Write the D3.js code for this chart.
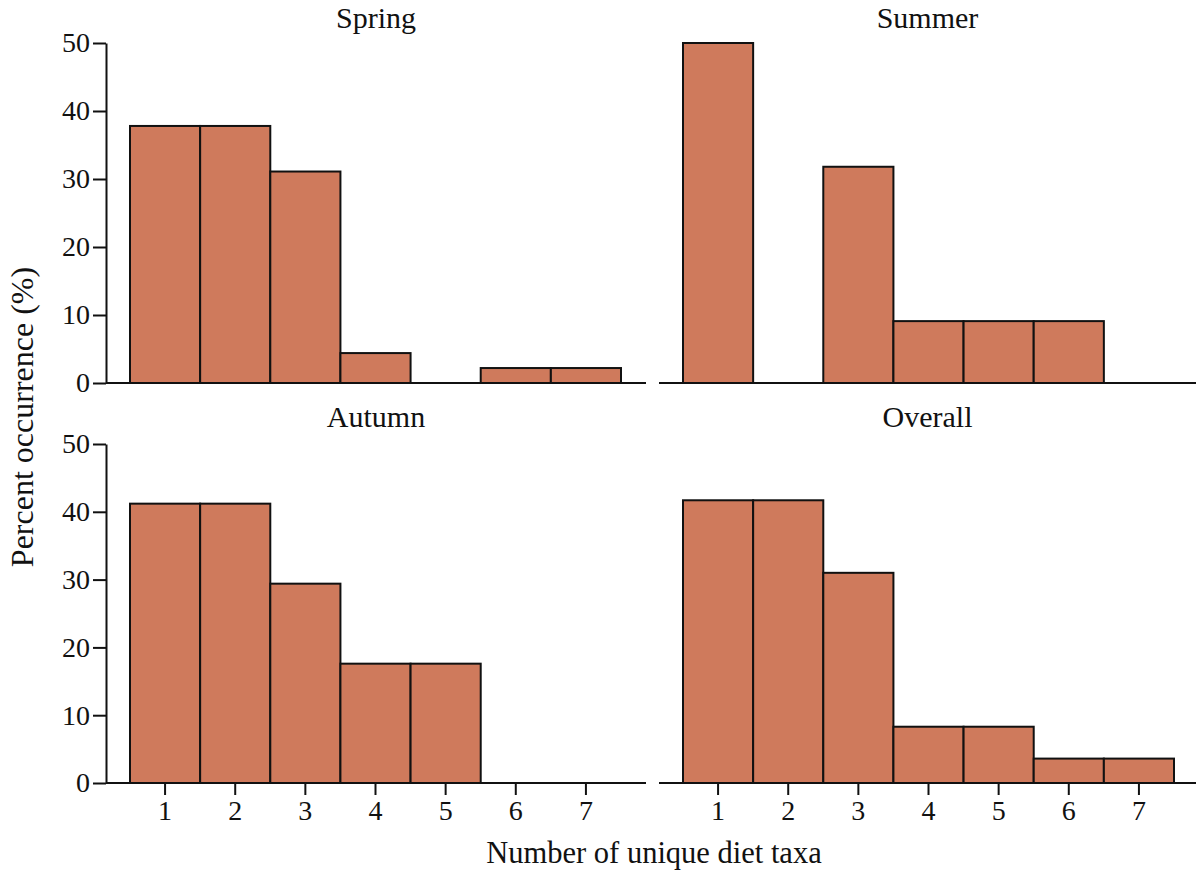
<!DOCTYPE html>
<html>
<head>
<meta charset="utf-8">
<script src="https://cdn.jsdelivr.net/npm/d3@7/dist/d3.min.js"></script>
<style>
  html, body { margin: 0; padding: 0; background: #fff; }
  svg text { font-family: "Liberation Serif", "Times New Roman", serif; fill: #111; }
</style>
</head>
<body>
<svg id="chart" width="1196" height="877"></svg>
<script>
// Number of unique diet taxa per sample (categories on the x axis)
const taxa = [1, 2, 3, 4, 5, 6, 7];
const yTicks = [0, 10, 20, 30, 40, 50];

// Percent occurrence by season
const spring  = [37.8, 37.8, 31.1, 4.4, 0, 2.2, 2.2];
const summer  = [50.0, 0, 31.8, 9.1, 9.1, 9.1, 0];
const autumn  = [41.2, 41.2, 29.4, 17.6, 17.6, 0, 0];
const overall = [41.7, 41.7, 31.0, 8.3, 8.3, 3.6, 3.6];

const panelTitles = ["Spring", "Summer", "Autumn", "Overall"];
const panelValues = [spring, summer, autumn, overall];

const svg = d3.select("#chart");
const barFill = "#CF7A5C";
const ink = "#111";

// panel frames: axis extents and bar band extents
const cols = [
  { axisX0: 106, axisX1: 646, band0: 130, band1: 621, yAxis: true },
  { axisX0: 659, axisX1: 1196, band0: 683, band1: 1174, yAxis: false }
];
const rows = [
  { top: 43, bottom: 383, titleY: 28, xTicks: false },
  { top: 444, bottom: 783, titleY: 427, xTicks: true }
];

panelTitles.forEach((title, i) => {
  const c = cols[i % 2], r = rows[Math.floor(i / 2)];
  const values = panelValues[i];

  const x = d3.scaleBand().domain(taxa).range([c.band0, c.band1]).padding(0);
  const y = d3.scaleLinear().domain([0, 50]).range([r.bottom, r.top]);

  const g = svg.append("g");

  // bars
  g.selectAll("rect.bar")
    .data(taxa.map((t, k) => ({ t, v: values[k] })).filter(d => d.v > 0))
    .join("rect")
    .attr("class", "bar")
    .attr("x", d => x(d.t))
    .attr("width", x.bandwidth())
    .attr("y", d => y(d.v))
    .attr("height", d => y(0) - y(d.v))
    .attr("fill", barFill)
    .attr("stroke", ink)
    .attr("stroke-width", 2);

  // baseline
  g.append("line")
    .attr("x1", c.axisX0).attr("x2", c.axisX1)
    .attr("y1", y(0)).attr("y2", y(0))
    .attr("stroke", ink).attr("stroke-width", 2);

  // x ticks (bottom row only)
  if (r.xTicks) {
    const ax = g.append("g")
      .attr("transform", `translate(0,${y(0)})`)
      .call(d3.axisBottom(x).tickSize(12).tickPadding(5));
    ax.select(".domain").remove();
    ax.selectAll(".tick line").attr("stroke", ink).attr("stroke-width", 2);
    ax.selectAll(".tick text").attr("font-size", 28)
      .attr("font-family", "Liberation Serif, serif").attr("fill", ink);
  }

  // y axis (left column only)
  if (c.yAxis) {
    const ay = g.append("g")
      .attr("transform", `translate(${c.axisX0},0)`)
      .call(d3.axisLeft(y).tickValues(yTicks).tickSize(13).tickPadding(3).tickSizeOuter(0));
    ay.select(".domain").attr("stroke", ink).attr("stroke-width", 2);
    ay.selectAll(".tick line").attr("stroke", ink).attr("stroke-width", 2);
    ay.selectAll(".tick text").attr("font-size", 28)
      .attr("font-family", "Liberation Serif, serif").attr("fill", ink);
  }

  // panel title
  g.append("text")
    .attr("x", (c.axisX0 + c.axisX1) / 2)
    .attr("y", r.titleY)
    .attr("text-anchor", "middle")
    .attr("font-size", 30)
    .text(title);
});

// shared axis titles
svg.append("text")
  .attr("x", 654).attr("y", 863)
  .attr("text-anchor", "middle")
  .attr("font-size", 30.5)
  .text("Number of unique diet taxa");

svg.append("text")
  .attr("transform", "translate(33,417) rotate(-90)")
  .attr("text-anchor", "middle")
  .attr("font-size", 32)
  .text("Percent occurrence (%)");
</script>
</body>
</html>
